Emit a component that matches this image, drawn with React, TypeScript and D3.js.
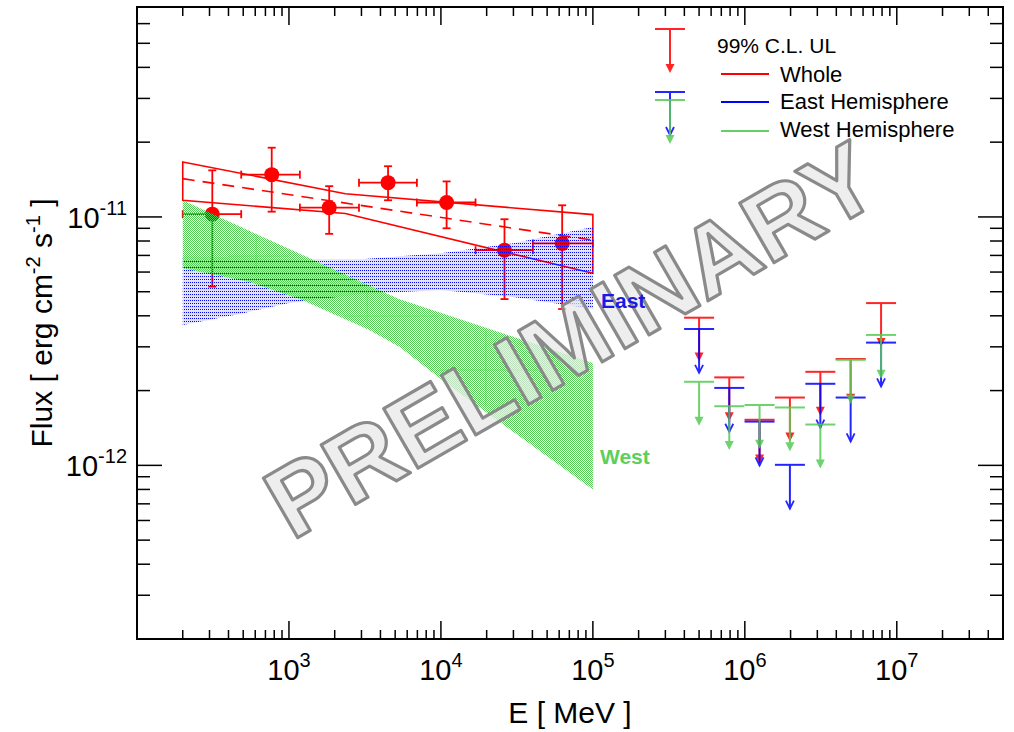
import React from 'react';
import * as d3 from 'd3';

// ---------- DATA ----------
// Whole-ROI data points (E in MeV, flux in erg cm^-2 s^-1)
const wholeE = [313, 770, 1840, 4490, 10900, 26200, 62800];
const wholeELo = [200, 485, 1180, 2890, 6950, 16900, 40300];
const wholeEHi = [485, 1180, 2890, 6950, 16900, 40300, 100000];
const wholeFlux = [1.026e-11, 1.48e-11, 1.09e-11, 1.374e-11, 1.143e-11, 7.35e-12, 7.82e-12];
const wholeFluxHi = [1.54e-11, 1.9e-11, 1.33e-11, 1.6e-11, 1.39e-11, 9.79e-12, 1.114e-11];
const wholeFluxLo = [5.24e-12, 1.05e-11, 8.55e-12, 1.167e-11, 9.0e-12, 4.67e-12, 4.26e-12];

// Whole butterfly
const wholeBandE = [200, 2350, 100000];
const wholeBandHi = [1.664e-11, 1.24e-11, 1.022e-11];
const wholeBandLo = [1.167e-11, 1.032e-11, 5.93e-12];
const wholeFitE = [200, 100000];
const wholeFit = [1.426e-11, 8.06e-12];

// East butterfly
const eastBandE = [200, 500, 1000, 3000, 10000, 30000, 100000];
const eastBandHi = [6.95e-12, 6.86e-12, 6.76e-12, 6.76e-12, 7.15e-12, 7.84e-12, 9.1e-12];
const eastBandLo = [3.67e-12, 4.1e-12, 4.5e-12, 4.89e-12, 5.08e-12, 4.76e-12, 4.26e-12];

// West butterfly
const westBandE = [200, 548, 1222, 3373, 5310, 11300, 100000];
const westBandHi = [1.167e-11, 8.79e-12, 7.04e-12, 5.3e-12, 4.67e-12, 4.01e-12, 2.58e-12];
const westBandLo = [6.22e-12, 5.47e-12, 4.63e-12, 3.51e-12, 3.0e-12, 2.1e-12, 7.99e-13];

// faint West points (thin lines inside the band)
const westPtE = [609, 3266, 19760];
const westPtELo = [405, 2306, 9730];
const westPtEHi = [1005, 9730, 44200];
const westPtFlux = [6.95e-12, 3.99e-12, 2.42e-12];
const westPtFluxHi = [8.29e-12, 5.08e-12, 3.51e-12];
const westPtFluxLo = [5.83e-12, 3.74e-12, 1.72e-12];

// 99% C.L. upper limits
const ulE = [5.0e5, 7.9e5, 1.25e6, 1.98e6, 3.14e6, 4.97e6, 7.88e6];
const ulWhole = [3.93e-12, 2.26e-12, 1.526e-12, 1.875e-12, 2.38e-12, 2.68e-12, 4.5e-12];
const ulEast = [3.54e-12, 2.05e-12, 1.5e-12, 1.005e-12, 2.13e-12, 1.875e-12, 3.12e-12];
const ulWest = [2.17e-12, 1.73e-12, 1.75e-12, 1.71e-12, 1.46e-12, 2.66e-12, 3.35e-12];

const xTickLabels = ['3', '4', '5', '6', '7'];
const yTickLabels = ['-12', '-11'];

// ---------- STYLE ----------
const RED = '#ff0000';
const BLUE = '#0000ff';
const GREEN = '#55cc55';
const FONT = '"Liberation Sans", Arial, Helvetica, sans-serif';
const UL_FACTOR = 0.666;

export default function App() {
  const x = d3.scaleLog().domain([100, 5e7]).range([137, 1003]);
  const y = d3.scaleLog().domain([2e-13, 7e-11]).range([639, 7]);
  const [x0, x1] = x.range();
  const [y0, y1] = y.range();

  // ticks
  const xMajor: number[] = [];
  const xMinor: number[] = [];
  for (let d = 100; d <= 1e7; d *= 10) {
    xMajor.push(d);
    for (let k = 2; k <= 9; k++) if (k * d <= 5e7 * 1.0001) xMinor.push(k * d);
  }
  const yMajor: number[] = [];
  const yMinor: number[] = [];
  for (let d = 1e-13; d <= 1e-11 * 1.0001; d *= 10) {
    if (d >= 1e-12 * 0.999) yMajor.push(d);
    for (let k = 2; k <= 9; k++) {
      const v = k * d;
      if (v >= 2e-13 * 0.999 && v <= 7e-11 * 1.0001) yMinor.push(v);
    }
  }

  const band = (E: number[], lo: number[], hi: number[]) =>
    d3
      .area<number>()
      .x((_, i) => x(E[i]))
      .y0((_, i) => y(lo[i]))
      .y1((_, i) => y(hi[i]))(E);

  const outline = (E: number[], lo: number[], hi: number[]) => {
    const pts: [number, number][] = [];
    E.forEach((e, i) => pts.push([x(e), y(hi[i])]));
    for (let i = E.length - 1; i >= 0; i--) pts.push([x(E[i]), y(lo[i])]);
    return d3.line()(pts) + 'Z';
  };

  const fitLine = d3.line()(wholeFitE.map((e, i) => [x(e), y(wholeFit[i])] as [number, number]));

  const arrow = (cx: number, yt: number, yb: number, color: string, open: boolean, key: string) => (
    <g key={key} stroke={color} fill={color} opacity={0.85}>
      <line x1={cx - 15} x2={cx + 15} y1={yt} y2={yt} strokeWidth={2} />
      <line x1={cx} x2={cx} y1={yt} y2={yb - (open ? 0 : 6)} strokeWidth={2} />
      {open ? (
        <polyline points={`${cx - 4},${yb - 8} ${cx},${yb} ${cx + 4},${yb - 8}`} fill="none" strokeWidth={1.8} />
      ) : (
        <polygon points={`${cx - 4.5},${yb - 9} ${cx + 4.5},${yb - 9} ${cx},${yb}`} stroke="none" />
      )}
    </g>
  );

  const ul = (E: number[], vals: number[], color: string, open: boolean, key: string) =>
    E.map((e, i) => arrow(x(e), y(vals[i]), y(vals[i] * UL_FACTOR), color, open, key + i));

  const checkCells: [number, number][] = [];
  for (let i = 0; i < 4; i++) for (let j = 0; j < 4; j++) if ((i + j) % 2 === 0) checkCells.push([i, j]);
  const dotCells: [number, number][] = [];
  for (let i = 0; i < 4; i += 2) for (let j = 0; j < 6; j += 3) dotCells.push([i, j]);

  const eastPath = band(eastBandE, eastBandLo, eastBandHi) || '';

  return (
    <svg
      width={1014}
      height={732}
      style={{ position: 'absolute', left: 0, top: 0, background: '#fff' }}
      fontFamily={FONT}
    >
      <defs>
        <pattern id="blueDots" x="0" y="0" width="4" height="6" patternUnits="userSpaceOnUse">
          {dotCells.map(([i, j]) => (
            <rect key={i + '-' + j} x={i} y={j} width="1" height="1" fill={BLUE} shapeRendering="crispEdges" />
          ))}
        </pattern>
        <pattern id="greenCheck" x="0" y="0" width="4" height="4" patternUnits="userSpaceOnUse">
          {checkCells.map(([i, j]) => (
            <rect key={i + '-' + j} x={i} y={j} width="1" height="1" fill={GREEN} shapeRendering="crispEdges" />
          ))}
        </pattern>
      </defs>
      <rect x={0} y={0} width={1014} height={732} fill="#fff" />

      {/* Whole butterfly */}
      <path d={outline(wholeBandE, wholeBandLo, wholeBandHi)} fill="none" stroke={RED} strokeWidth={1.6} />
      <path d={fitLine || ''} fill="none" stroke={RED} strokeWidth={1.6} strokeDasharray="12,8" />

      {/* Whole data points */}
      {wholeE.map((e, i) => {
        const cx = x(e);
        const cy = y(wholeFlux[i]);
        const xl = x(wholeELo[i]);
        const xr = x(wholeEHi[i]);
        const yt = y(wholeFluxHi[i]);
        const yb = y(wholeFluxLo[i]);
        return (
          <g key={'p' + i} stroke={RED} strokeWidth={1.8}>
            <line x1={xl} x2={xr} y1={cy} y2={cy} />
            <line x1={xl} x2={xl} y1={cy - 4} y2={cy + 4} />
            <line x1={xr} x2={xr} y1={cy - 4} y2={cy + 4} />
            <line x1={cx} x2={cx} y1={yt} y2={yb} />
            <line x1={cx - 4} x2={cx + 4} y1={yt} y2={yt} />
            <line x1={cx - 4} x2={cx + 4} y1={yb} y2={yb} />
            <circle cx={cx} cy={cy} r={7.5} fill={RED} stroke="none" />
          </g>
        );
      })}

      {/* East band */}
      <path d={eastPath} fill={BLUE} fillOpacity={0.12} />
      <path d={eastPath} fill="url(#blueDots)" />
      {/* West band */}
      <path d={band(westBandE, westBandLo, westBandHi) || ''} fill="url(#greenCheck)" />
      {/* faint west points */}
      {westPtE.map((e, i) => (
        <g key={'w' + i} stroke={GREEN} strokeWidth={1} opacity={0.6}>
          <line x1={x(westPtELo[i])} x2={x(westPtEHi[i])} y1={y(westPtFlux[i])} y2={y(westPtFlux[i])} />
          <line x1={x(e)} x2={x(e)} y1={y(westPtFluxHi[i])} y2={y(westPtFluxLo[i])} />
        </g>
      ))}

      {/* Watermark */}
      <text
        transform="translate(292,541) rotate(-30)"
        fontSize={100}
        fontWeight="bold"
        fill="#e8e8e8"
        fillOpacity={0.72}
        stroke="#8a8a8a"
        strokeWidth={3.2}
        strokeLinejoin="round"
      >
        PRELIMINARY
      </text>

      <text x={601} y={308} fontSize={21} fontWeight="bold" fill="#1a1ae6">East</text>
      <text x={600} y={464} fontSize={21} fontWeight="bold" fill="#5ccf5c">West</text>

      {/* Upper limits */}
      {ul(ulE, ulWhole, RED, false, 'r')}
      {ul(ulE, ulEast, BLUE, true, 'b')}
      {ul(ulE, ulWest, GREEN, false, 'g')}

      {/* Legend */}
      {arrow(670, 29, 73, RED, false, 'l1')}
      {arrow(670, 92, 135, BLUE, true, 'l2')}
      {arrow(670, 100, 144, GREEN, false, 'l3')}
      <text x={717} y={53} fontSize={21}>99% C.L. UL</text>
      <line x1={721} x2={769} y1={74} y2={74} stroke={RED} strokeWidth={2} />
      <text x={780} y={82} fontSize={22}>Whole</text>
      <line x1={721} x2={769} y1={102} y2={102} stroke={BLUE} strokeWidth={2} />
      <text x={780} y={109} fontSize={22}>East Hemisphere</text>
      <line x1={721} x2={769} y1={131} y2={131} stroke="#66d066" strokeWidth={2} />
      <text x={780} y={137} fontSize={22}>West Hemisphere</text>

      {/* Frame */}
      <rect x={x0} y={y1} width={x1 - x0} height={y0 - y1} fill="none" stroke="#000" strokeWidth={2} />
      {/* ticks */}
      <g stroke="#000" strokeWidth={1.5}>
        {xMajor.map((v) => (
          <g key={'xm' + v}>
            <line x1={x(v)} x2={x(v)} y1={y0} y2={y0 - 18} />
            <line x1={x(v)} x2={x(v)} y1={y1} y2={y1 + 18} />
          </g>
        ))}
        {xMinor.map((v) => (
          <g key={'xn' + v}>
            <line x1={x(v)} x2={x(v)} y1={y0} y2={y0 - 9} />
            <line x1={x(v)} x2={x(v)} y1={y1} y2={y1 + 9} />
          </g>
        ))}
        {yMajor.map((v) => (
          <g key={'ym' + v}>
            <line x1={x0} x2={x0 + 25} y1={y(v)} y2={y(v)} />
            <line x1={x1} x2={x1 - 25} y1={y(v)} y2={y(v)} />
          </g>
        ))}
        {yMinor.map((v) => (
          <g key={'yn' + v}>
            <line x1={x0} x2={x0 + 13} y1={y(v)} y2={y(v)} />
            <line x1={x1} x2={x1 - 13} y1={y(v)} y2={y(v)} />
          </g>
        ))}
      </g>

      {/* X tick labels */}
      {xTickLabels.map((s) => {
        const v = Math.pow(10, +s);
        return (
          <text key={'xl' + s} x={x(v)} y={680} textAnchor="middle" fontSize={29}>
            10<tspan dy={-13} fontSize={20}>{s}</tspan>
          </text>
        );
      })}
      {/* Y tick labels */}
      {yTickLabels.map((s) => {
        const v = Math.pow(10, +s);
        return (
          <text key={'yl' + s} x={127} y={y(v) + 11} textAnchor="end" fontSize={29}>
            10<tspan dy={-13} fontSize={20}>{s}</tspan>
          </text>
        );
      })}

      {/* Axis titles */}
      <text x={(x0 + x1) / 2} y={723} textAnchor="middle" fontSize={30}>E [ MeV ]</text>
      <text transform={`translate(52,${(y0 + y1) / 2}) rotate(-90)`} textAnchor="middle" fontSize={30}>
        Flux [ erg cm<tspan dy={-12} fontSize={20}>-2</tspan>
        <tspan dy={12}> s</tspan>
        <tspan dy={-12} fontSize={20}>-1</tspan>
        <tspan dy={12}> ]</tspan>
      </text>
    </svg>
  );
}
